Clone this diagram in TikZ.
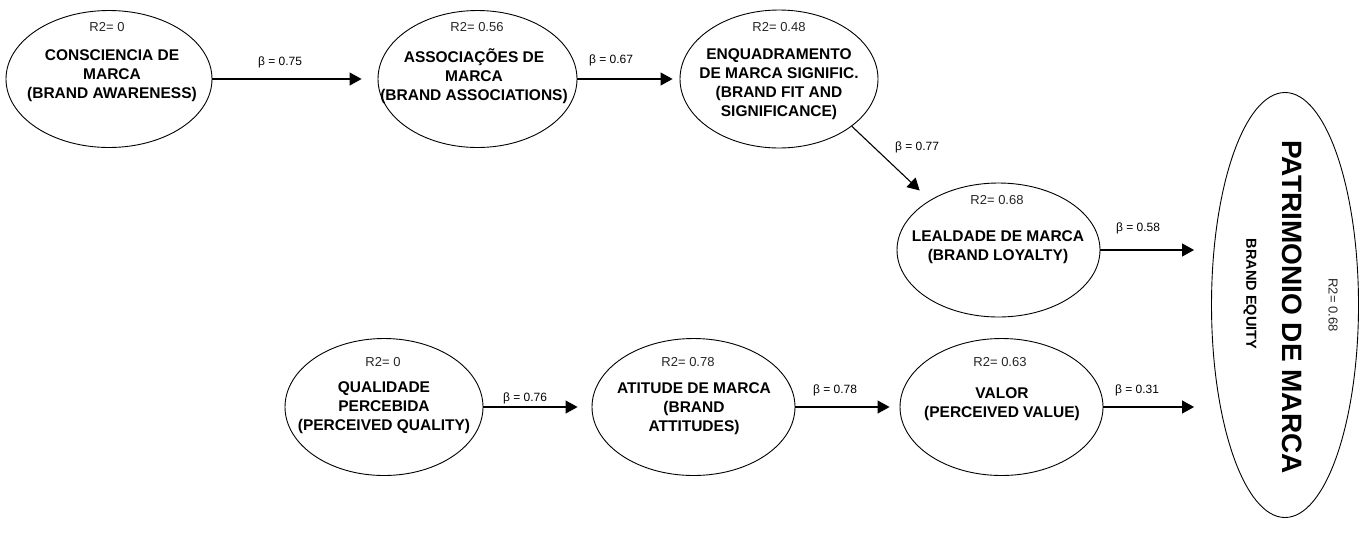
\documentclass[tikz,border=0pt]{standalone}
\usepackage{fontspec}
\setmainfont{Liberation Sans}
\usetikzlibrary{shapes.geometric,arrows.meta}
\begin{document}
\begin{tikzpicture}[x=1pt,y=-1pt,
  latent/.style={draw, ellipse, line width=0.9pt, inner sep=0pt},
  lbl/.style={font=\fontsize{15.5}{19}\selectfont\bfseries, align=center},
  rtwo/.style={font=\fontsize{13}{14}\selectfont, text=black!85},
  coef/.style={font=\fontsize{12}{14}\selectfont},
  link/.style={line width=1.1pt, -{Triangle[length=12pt,width=13pt]}}]
\useasboundingbox (0,0) rectangle (1362,558);
\node[latent, minimum width=206pt, minimum height=137pt] (cons) at (109,79) {};
\node[latent, minimum width=199pt, minimum height=137pt] (assoc) at (477.5,79) {};
\node[latent, minimum width=198pt, minimum height=138pt] (enq) at (779,79) {};
\node[latent, minimum width=203pt, minimum height=134pt] (leal) at (998.5,250) {};
\node[latent, minimum width=198pt, minimum height=137pt] (qual) at (384,407) {};
\node[latent, minimum width=203pt, minimum height=137pt] (atit) at (693.5,407) {};
\node[latent, minimum width=203pt, minimum height=137pt] (valor) at (1001.5,407) {};
\node[latent, minimum width=147pt, minimum height=425pt] (patr) at (1285,305) {};
\node[rtwo] (r2cons) at (107,27) {R2= 0};
\node[rtwo] (r2assoc) at (477,27) {R2= 0.56};
\node[rtwo] (r2enq) at (779,27) {R2= 0.48};
\node[rtwo] (r2leal) at (997,200) {R2= 0.68};
\node[rtwo] (r2qual) at (383,362) {R2= 0};
\node[rtwo] (r2atit) at (688,362) {R2= 0.78};
\node[rtwo] (r2valor) at (1000,362) {R2= 0.63};
\node[lbl] (tcons) at (112,76) {CONSCIENCIA DE\\MARCA\\(BRAND AWARENESS)};
\node[lbl] (tassoc) at (474,76) {ASSOCIAÇÕES DE\\MARCA\\(BRAND ASSOCIATIONS)};
\node[lbl] (tenq) at (779,84) {ENQUADRAMENTO\\DE MARCA SIGNIFIC.\\(BRAND FIT AND\\SIGNIFICANCE)};
\node[lbl] (tleal) at (998,247) {LEALDADE DE MARCA\\(BRAND LOYALTY)};
\node[lbl] (tqual) at (384,408) {QUALIDADE\\PERCEBIDA\\(PERCEIVED QUALITY)};
\node[lbl] (tatit) at (694,409) {ATITUDE DE MARCA\\(BRAND\\ATTITUDES)};
\node[lbl] (tvalor) at (1002,404) {VALOR\\(PERCEIVED VALUE)};
\node[font=\fontsize{28}{30}\selectfont\bfseries, rotate=-90] (tpatr) at (1292,307) {PATRIMONIO DE MARCA};
\node[font=\fontsize{14.5}{16}\selectfont\bfseries, rotate=-90] (tequity) at (1250,294) {BRAND EQUITY};
\node[rtwo, rotate=-90] (r2patr) at (1333,305) {R2= 0.68};
\draw[link, shorten >=16pt] (cons) -- (assoc);
\draw[link, shorten >=7pt] (assoc) -- (enq);
\draw[link, shorten >=14pt] (enq.-33) -- (leal.144);
\draw[link, shorten >=17pt] (leal) -- (leal -| patr.west);
\draw[link, shorten >=14pt] (qual) -- (atit);
\draw[link, shorten >=10pt] (atit) -- (valor);
\draw[link, shorten >=17pt] (valor) -- (valor -| patr.west);
\node[coef] (b1) at (280,62) {β = 0.75};
\node[coef] (b2) at (611,60) {β = 0.67};
\node[coef] (b3) at (917,147) {β = 0.77};
\node[coef] (b4) at (1138,228) {β = 0.58};
\node[coef] (b5) at (525,398) {β = 0.76};
\node[coef] (b6) at (835,390) {β = 0.78};
\node[coef] (b7) at (1137,390) {β = 0.31};
\end{tikzpicture}
\end{document}
